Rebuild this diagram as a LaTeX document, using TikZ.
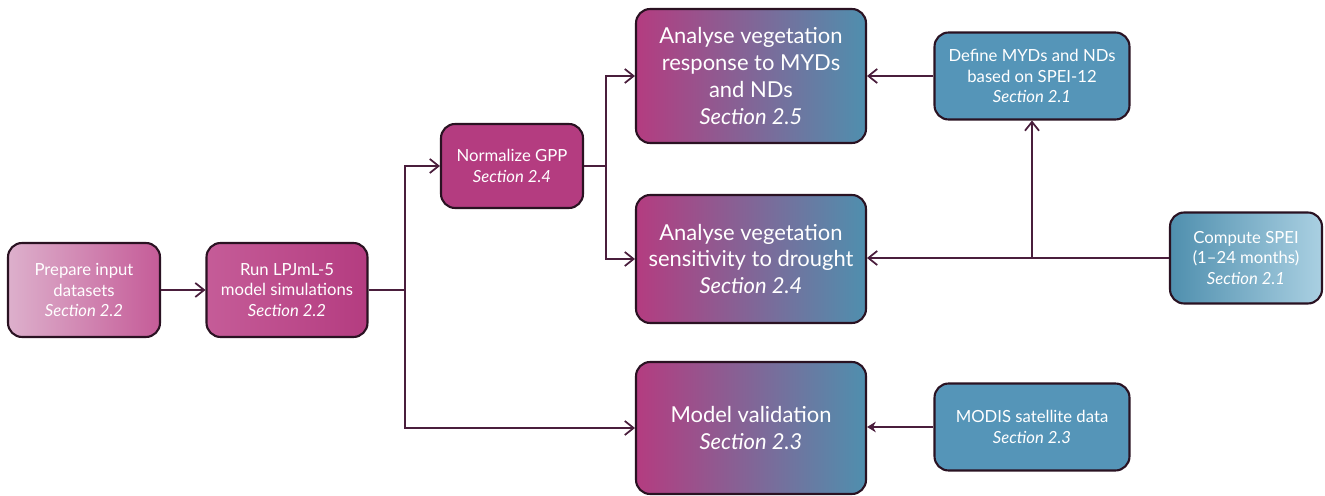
\documentclass[tikz,border=0pt]{standalone}
\usepackage{fontspec}
\setmainfont{Lato}
\usetikzlibrary{arrows.meta}
\definecolor{linecol}{HTML}{4A1E3C}
\definecolor{edgecol}{HTML}{2A1222}
\definecolor{magA}{HTML}{B43C80}
\definecolor{magB}{HTML}{C55C98}
\definecolor{magL}{HTML}{DDB0CC}
\definecolor{tealA}{HTML}{5595B8}
\definecolor{tealB}{HTML}{4F8FAE}
\definecolor{tealL}{HTML}{AAD0E2}
\tikzset{
  box/.style={draw=edgecol, line width=1.2pt, rounded corners=8pt, align=center,
    text=white, inner sep=0pt},
  small/.style={box, font=\fontsize{9.5}{11.6}\selectfont},
  big/.style={box, font=\fontsize{12.5}{15.3}\selectfont, minimum width=4.6cm,
    left color=magA, right color=tealB},
  line/.style={draw=linecol, line width=1pt},
  conn/.style={line, -{Straight Barb[length=5pt,width=8pt]}},
  connb/.style={line, -{Stealth[length=5pt,width=6pt]}}
}
\newcommand{\sect}[1]{\textit{Section #1}}
\begin{document}
\begin{tikzpicture}[x=0.02cm,y=-0.02cm]
\useasboundingbox (0,0) rectangle (1325,496);
%\draw[step=50,gray,very thin] (0,0) grid (1325,496);
% left part
\node[small, minimum width=3.04cm, minimum height=1.88cm, left color=magL, right color=magB] (prep) at (84,290) {Prepare input\\datasets\\\sect{2.2}};
\node[small, minimum width=3.22cm, minimum height=1.88cm, left color=magB, right color=magA] (run) at (287,290) {Run LPJmL-5\\model simulations\\\sect{2.2}};
\node[small, minimum width=2.84cm, minimum height=1.68cm, fill=magA] (norm) at (512,166) {Normalize GPP\\\sect{2.4}};
% analysis boxes
\node[big, minimum height=2.68cm] (resp) at (751,76) {Analyse vegetation\\response to MYDs\\and NDs\\\sect{2.5}};
\node[big, minimum height=2.56cm] (sens) at (751,259) {Analyse vegetation\\sensitivity to drought\\\sect{2.4}};
\node[big, minimum height=2.64cm] (valid) at (751,428) {Model validation\\\sect{2.3}};
% right part
\node[small, minimum width=3.9cm, minimum height=1.74cm, fill=tealA] (defn) at (1032,76) {Define MYDs and NDs\\based on SPEI-12\\\sect{2.1}};
\node[small, minimum width=3.04cm, minimum height=1.82cm, left color=tealB, right color=tealL] (spei) at (1246,258) {Compute SPEI\\(1--24 months)\\\sect{2.1}};
\node[small, minimum width=3.9cm, minimum height=1.74cm, fill=tealA] (modis) at (1032,427) {MODIS satellite data\\\sect{2.3}};
% connectors
\coordinate (j1) at (405,290);
\coordinate (j2) at (606,166);
\coordinate (j3) at (1032,258);
\draw[conn] (prep) -- (run);
\draw[line] (run.east) -- (j1);
\draw[conn] (j1) |- (norm.west);
\draw[conn] (j1) |- (valid.west);
\draw[line] (norm.east) -- (j2);
\draw[conn] (j2) |- (resp.west);
\draw[conn] (j2) |- (sens.west);
\draw[conn] (defn.west) -- (resp.east);
\draw[conn] (spei.west) -- (sens.east |- spei.west);
\draw[conn] (j3) -- (defn.south);
\draw[connb] (modis.west) -- (valid.east |- modis.west);
\end{tikzpicture}
\end{document}
